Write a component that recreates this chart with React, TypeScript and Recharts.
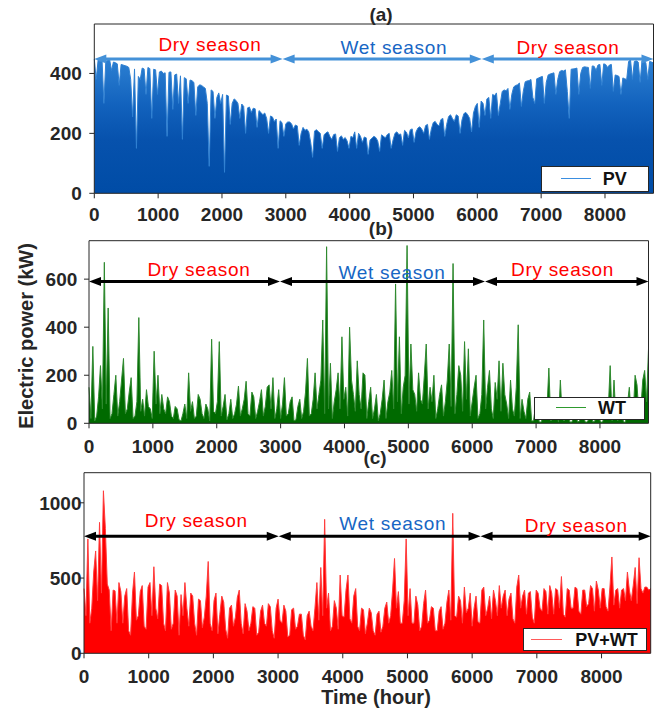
import React from "react";
import { ComposedChart, Area, XAxis, YAxis, ReferenceLine, ReferenceDot } from "recharts";

// hourly profiles, one value every STEP hours
const STEP = 30;
const X_TICKS = [0, 1000, 2000, 3000, 4000, 5000, 6000, 7000, 8000];

const PV = [
  448, 380, 445, 440, 452, 300, 440, 445, 446, 410, 438, 436, 432, 360, 430, 428, 426, 424, 420, 380,
  255, 415, 150, 390, 380, 418, 415, 330, 420, 416, 250, 414, 412, 330, 405, 408, 400, 402, 190, 404,
  405, 280, 395, 398, 300, 392, 180, 386, 382, 300, 378, 376, 370, 260, 355, 362, 360, 355, 350, 300,
  90, 345, 340, 250, 320, 335, 300, 330, 70, 328, 325, 230, 300, 315, 310, 300, 250, 298, 290, 200,
  285, 288, 270, 284, 282, 220, 276, 270, 262, 268, 250, 200, 258, 255, 240, 248, 150, 242, 236, 190,
  232, 238, 238, 232, 215, 228, 225, 160, 200, 220, 210, 214, 205, 170, 120, 208, 212, 206, 200, 150,
  195, 202, 205, 190, 180, 196, 198, 140, 185, 192, 180, 186, 175, 150, 190, 186, 205, 150, 200, 190,
  170, 188, 185, 130, 178, 184, 190, 186, 175, 140, 195, 190, 185, 196, 200, 150, 178, 200, 205, 196,
  198, 160, 210, 204, 185, 212, 215, 170, 205, 218, 222, 214, 200, 226, 230, 180, 215, 236, 240, 230,
  225, 246, 250, 190, 230, 256, 262, 250, 240, 262, 258, 200, 245, 266, 270, 262, 250, 205, 268, 290,
  300, 220, 308, 300, 260, 315, 320, 250, 330, 326, 335, 260, 300, 340, 345, 342, 350, 280, 330, 355,
  360, 362, 368, 290, 340, 372, 375, 376, 380, 320, 300, 382, 385, 388, 390, 300, 370, 395, 398, 400,
  402, 330, 380, 406, 410, 408, 412, 340, 250, 414, 415, 416, 418, 330, 400, 420, 422, 421, 420, 350,
  425, 424, 410, 428, 430, 360, 432, 430, 420, 428, 430, 340, 395, 393, 390, 330, 385, 382, 380, 440,
  445, 380, 440, 442, 438, 370, 442, 440, 436, 380, 440, 438, 435,
];

const WT = [
  150, 20, 320, 10, 30, 110, 240, 60, 670, 80, 480, 20, 40, 120, 200, 30, 90, 180, 270, 40,
  60, 130, 190, 20, 30, 90, 440, 50, 100, 30, 140, 70, 60, 20, 300, 80, 200, 40, 120, 60,
  40, 110, 90, 30, 20, 70, 60, 15, 10, 40, 80, 20, 210, 50, 90, 20, 30, 120, 100, 40,
  20, 80, 60, 10, 350, 50, 40, 90, 340, 30, 70, 120, 15, 40, 100, 20, 40, 80, 155, 30,
  60, 100, 175, 40, 30, 130, 110, 20, 50, 90, 140, 30, 70, 150, 160, 60, 190, 20, 60, 140,
  20, 80, 190, 30, 40, 90, 110, 10, 15, 70, 100, 20, 50, 130, 270, 30, 40, 100, 210, 60,
  120, 180, 430, 40, 735, 60, 250, 20, 90, 140, 210, 60, 360, 100, 150, 30, 400, 180, 120, 50,
  260, 120, 60, 210, 200, 20, 90, 150, 20, 60, 120, 10, 40, 100, 180, 20, 90, 130, 220, 60,
  580, 90, 360, 40, 150, 200, 740, 80, 330, 140, 120, 50, 210, 100, 80, 200, 330, 60, 150, 90,
  200, 20, 60, 120, 160, 30, 90, 180, 330, 70, 665, 40, 120, 240, 200, 50, 340, 100, 310, 30,
  90, 150, 200, 20, 40, 120, 430, 60, 150, 220, 60, 20, 170, 100, 260, 50, 250, 120, 80, 20,
  180, 60, 30, 150, 410, 20, 100, 50, 20, 100, 130, 10, 10, 70, 60, 5, 5, 30, 40, 60,
  230, 10, 20, 80, 60, 5, 180, 20, 10, 60, 50, 5, 5, 30, 40, 5, 10, 60, 30, 5,
  5, 20, 50, 5, 10, 40, 30, 5, 5, 30, 20, 60, 240, 10, 180, 20, 10, 50, 40, 5,
  5, 80, 150, 20, 30, 200, 160, 40, 60, 180, 220, 90, 310,
];

const PV_WT = [
  430, 250, 760, 200, 300, 540, 680, 350, 870, 400, 1080, 830, 460, 420, 150, 420, 415, 200, 470, 410,
  200, 380, 430, 150, 120, 400, 540, 220, 250, 410, 450, 180, 160, 440, 470, 250, 575, 300, 230, 460,
  450, 200, 150, 470, 400, 160, 200, 420, 380, 120, 390, 250, 470, 300, 180, 400, 380, 200, 120, 360,
  350, 170, 240, 380, 610, 200, 150, 350, 400, 130, 260, 380, 340, 160, 100, 300, 320, 180, 240, 370,
  420, 200, 130, 330, 280, 150, 200, 310, 300, 120, 140, 280, 320, 200, 180, 330, 310, 150, 100, 300,
  360, 220, 200, 320, 280, 110, 120, 290, 300, 160, 180, 260, 260, 120, 90, 250, 280, 180, 150, 300,
  470, 220, 570, 250, 890, 300, 400, 150, 180, 350, 300, 160, 520, 250, 240, 420, 520, 230, 200, 380,
  430, 180, 150, 300, 290, 130, 200, 300, 270, 150, 120, 260, 280, 140, 180, 300, 340, 200, 250, 420,
  630, 300, 410, 200, 200, 350, 760, 250, 430, 200, 200, 380, 320, 150, 180, 330, 420, 200, 220, 310,
  300, 150, 150, 280, 310, 160, 200, 340, 420, 220, 930, 250, 240, 380, 350, 200, 440, 270, 300, 400,
  180, 300, 380, 210, 200, 420, 440, 250, 300, 380, 230, 420, 350, 250, 450, 300, 380, 420, 250, 360,
  400, 230, 200, 440, 520, 300, 380, 420, 260, 400, 410, 240, 200, 420, 400, 300, 280, 430, 410, 260,
  450, 400, 260, 430, 420, 300, 510, 260, 240, 430, 420, 300, 300, 440, 430, 280, 260, 420, 420, 310,
  330, 450, 430, 280, 480, 420, 300, 430, 430, 310, 280, 440, 640, 320, 420, 430, 300, 420, 430, 350,
  540, 420, 350, 450, 570, 330, 635, 430, 400, 440, 440, 420, 430,
];

const HOURS = PV.map((_, i) => i * STEP);

// season boundaries (hour) per panel
const SEASONS_A = [0, 2950, 6070, 8760];
const SEASONS_B = [0, 2990, 6200, 8760];
const SEASONS_C = [0, 3010, 6130, 8760];

const FONT = "'Liberation Sans', Arial, Helvetica, sans-serif";
const INK = "#262626";
const RED = "#ff0000";
const BLUE_TXT = "#1766c4";

const rows = HOURS.map((h, i) => ({ h, pv: PV[i], wt: WT[i], pvwt: PV_WT[i] }));

const tickStyle = { fill: INK, fontSize: 19, fontWeight: 700, fontFamily: FONT };

const arrowShape = (color: string) => (p: any) => {
  const { x1, y1, x2, y2 } = p;
  const L = 12;
  const W = 4.5;
  return (
    <g>
      <line x1={x1 + L - 1} y1={y1} x2={x2 - L + 1} y2={y2} stroke={color} strokeWidth={3} />
      <polygon points={`${x1},${y1} ${x1 + L},${y1 - W} ${x1 + L},${y1 + W}`} fill={color} />
      <polygon points={`${x2},${y2} ${x2 - L},${y2 - W} ${x2 - L},${y2 + W}`} fill={color} />
    </g>
  );
};

const seasonText = (text: string, color: string) => (p: any) => (
  <text x={p.cx} y={p.cy} textAnchor="middle" fill={color} fontSize={19}
    letterSpacing={0.7} fontFamily={FONT}>
    {text}
  </text>
);

const fixedText = (text: string, x: number, y: number, size: number, rotate = false) => () => (
  <text x={x} y={y} textAnchor="middle" fill={INK} fontSize={size} fontWeight={700}
    fontFamily={FONT} transform={rotate ? `rotate(-90, ${x}, ${y})` : undefined}>
    {text}
  </text>
);

function Panel(props: {
  top: number; height: number; margin: any; yWidth: number; yDomain: number[];
  yTicks: number[]; yTickMargin: number; xTickMargin: number;
  dataKey: string; fill: string; stroke: string;
  bounds: number[]; level: number; arrowColor: string;
  labels: { text: string; x: number; y: number; color: string }[];
  title: any; yLabel?: any; xLabel?: any; defs?: any;
}) {
  const p = props;
  const segs = [0, 1, 2].map((i) => [p.bounds[i], p.bounds[i + 1]]);
  return (
    <div style={{ position: "absolute", left: 0, top: p.top }}>
      <ComposedChart width={665} height={p.height} data={rows} margin={p.margin}>
        {p.defs}
        <XAxis dataKey="h" type="number" domain={[0, 8760]} ticks={X_TICKS} interval={0}
          height={30} tickSize={5} tickMargin={p.xTickMargin} tick={tickStyle}
          axisLine={{ stroke: INK }} tickLine={{ stroke: INK }} label={p.xLabel} />
        <XAxis xAxisId="top" orientation="top" dataKey="h" type="number" domain={[0, 8760]}
          ticks={X_TICKS} interval={0} height={1} tickSize={5} tick={false}
          axisLine={{ stroke: INK }} tickLine={{ stroke: INK }} label={p.title} />
        <YAxis type="number" domain={p.yDomain} ticks={p.yTicks} interval={0} width={p.yWidth}
          tickSize={5} tickMargin={p.yTickMargin} tick={tickStyle}
          axisLine={{ stroke: INK }} tickLine={{ stroke: INK }} label={p.yLabel} />
        <YAxis yAxisId="r" orientation="right" type="number" domain={p.yDomain} ticks={p.yTicks}
          interval={0} width={1} tickSize={5} tick={false}
          axisLine={{ stroke: INK }} tickLine={{ stroke: INK }} />
        <Area dataKey={p.dataKey} type="linear" fill={p.fill} fillOpacity={1} stroke={p.stroke}
          strokeWidth={1} dot={false} activeDot={false} isAnimationActive={false} />
        {segs.map(([a, b], i) => (
          <ReferenceLine key={"s" + i} segment={[{ x: a, y: p.level }, { x: b, y: p.level }]}
            shape={arrowShape(p.arrowColor)} />
        ))}
        {p.labels.map((l, i) => (
          <ReferenceDot key={"l" + i} x={l.x} y={l.y} r={1} shape={seasonText(l.text, l.color)} />
        ))}
      </ComposedChart>
    </div>
  );
}

function LegendBox({ left, top, width, height, lineFrom, lineTo, textX, color, text }: any) {
  return (
    <div style={{
      position: "absolute", left, top, width, height, boxSizing: "border-box",
      border: `1.5px solid ${INK}`, background: "#fff",
    }}>
      <div style={{ position: "absolute", left: lineFrom, width: lineTo - lineFrom, top: height / 2 - 2, height: 1, background: color }} />
      <div style={{ position: "absolute", left: textX, top: height / 2 - 12, fontFamily: FONT, fontWeight: 700, fontSize: 18, color: "#111", lineHeight: "22px" }}>
        {text}
      </div>
    </div>
  );
}

export default function App() {
  return (
    <div style={{ position: "absolute", left: 0, top: 0, width: 665, height: 710, background: "#fff", overflow: "hidden" }}>
      <Panel top={0} height={232} margin={{ top: 23, right: 10.5, bottom: 8.7, left: 0 }}
        yWidth={94.3} yDomain={[0, 565]} yTicks={[0, 200, 400]} yTickMargin={7.5} xTickMargin={9.5}
        dataKey="pv" fill="url(#pvFill)" stroke="#2f80d2"
        bounds={SEASONS_A} level={448} arrowColor="#4491d8"
        labels={[
          { text: "Dry season", x: 1812, y: 475, color: RED },
          { text: "Wet season", x: 4693, y: 464, color: BLUE_TXT },
          { text: "Dry season", x: 7420, y: 464, color: RED },
        ]}
        title={fixedText("(a)", 381, 21, 19)}
        defs={
          <defs>
            <linearGradient id="pvFill" x1="0" y1="0" x2="0" y2="1">
              <stop offset="0%" stopColor="#2d81d3" />
              <stop offset="35%" stopColor="#1262bd" />
              <stop offset="60%" stopColor="#0752ad" />
              <stop offset="100%" stopColor="#004ca6" />
            </linearGradient>
          </defs>
        }
      />
      <Panel top={200} height={262} margin={{ top: 39.7, right: 15.5, bottom: 8.7, left: 0 }}
        yWidth={89} yDomain={[0, 760]} yTicks={[0, 200, 400, 600]} yTickMargin={6.7} xTickMargin={11.5}
        dataKey="wt" fill="#006a00" stroke="#2f8a2f"
        bounds={SEASONS_B} level={590} arrowColor="#000"
        labels={[
          { text: "Dry season", x: 1722, y: 611, color: RED },
          { text: "Wet season", x: 4743, y: 600, color: BLUE_TXT },
          { text: "Dry season", x: 7415, y: 611, color: RED },
        ]}
        title={fixedText("(b)", 381, 35, 19)}
        yLabel={fixedText("Electric power (kW)", 33, 136, 20, true)}
      />
      <Panel top={440} height={270} margin={{ top: 31.7, right: 13.3, bottom: 26.7, left: 0 }}
        yWidth={84} yDomain={[0, 1200]} yTicks={[0, 500, 1000]} yTickMargin={-2.5} xTickMargin={11.5}
        dataKey="pvwt" fill="#ff0000" stroke="#ff3c3c"
        bounds={SEASONS_C} level={777} arrowColor="#000"
        labels={[
          { text: "Dry season", x: 1736, y: 838, color: RED },
          { text: "Wet season", x: 4773, y: 817, color: BLUE_TXT },
          { text: "Dry season", x: 7610, y: 805, color: RED },
        ]}
        title={fixedText("(c)", 375, 24, 19)}
        xLabel={fixedText("Time (hour)", 376, 264, 20)}
      />
      <LegendBox left={540.7} top={165.7} width={108.3} height={26} lineFrom={19} lineTo={49}
        textX={61} color="#3a8ee0" text="PV" />
      <LegendBox left={534} top={396.7} width={111} height={23.5} lineFrom={21} lineTo={51}
        textX={63} color="#2e9a2e" text="WT" />
      <LegendBox left={523.3} top={628.3} width={123.4} height={22.7} lineFrom={7} lineTo={38}
        textX={51} color="#ff5a5a" text="PV+WT" />
    </div>
  );
}
